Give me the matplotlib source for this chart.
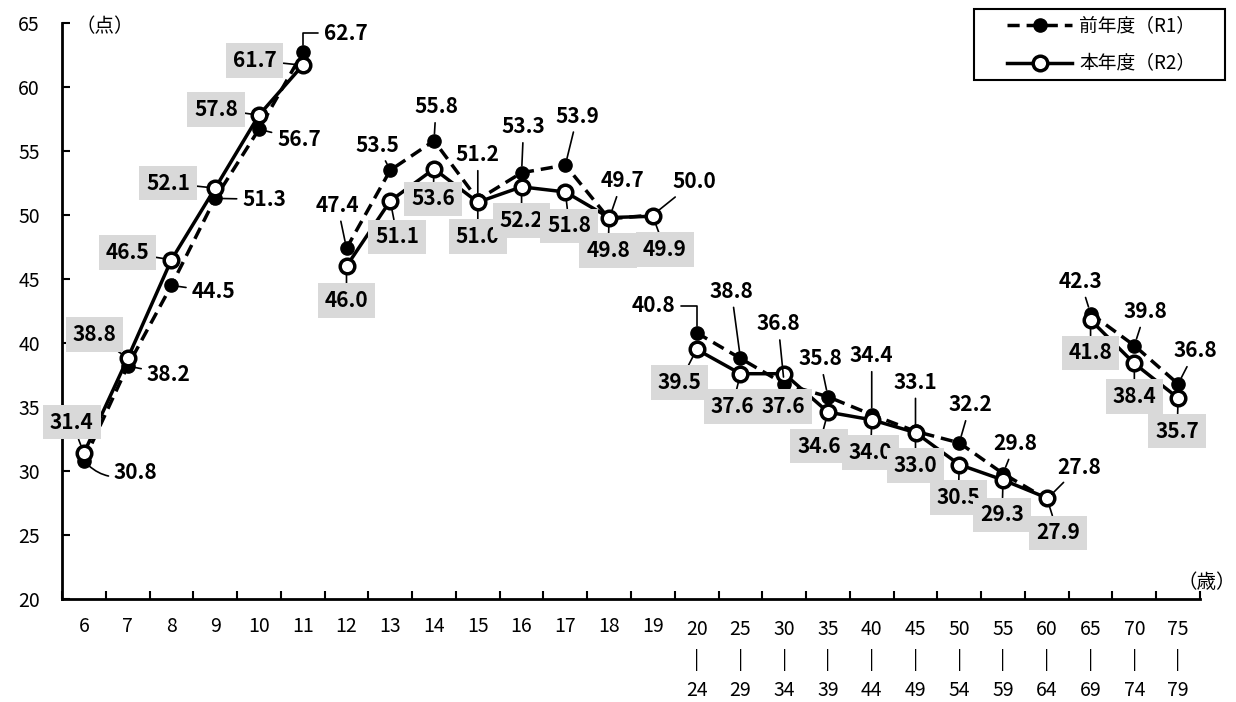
import matplotlib
matplotlib.use("Agg")
import matplotlib.pyplot as plt
import matplotlib.transforms as mtransforms
from matplotlib.patches import Rectangle
import numpy as np

plt.rcParams['font.family'] = ['Noto Sans CJK JP', 'DejaVu Sans']

# ---- data ----
tick_labels = ['6', '7', '8', '9', '10', '11', '12', '13', '14', '15', '16', '17', '18', '19',
               '20\n|\n24', '25\n|\n29', '30\n|\n34', '35\n|\n39', '40\n|\n44', '45\n|\n49',
               '50\n|\n54', '55\n|\n59', '60\n|\n64', '65\n|\n69', '70\n|\n74', '75\n|\n79']
r1 = [30.8, 38.2, 44.5, 51.3, 56.7, 62.7,
      47.4, 53.5, 55.8, 51.2, 53.3, 53.9, 49.7, 50.0,
      40.8, 38.8, 36.8, 35.8, 34.4, 33.1, 32.2, 29.8, 27.8,
      42.3, 39.8, 36.8]
r2 = [31.4, 38.8, 46.5, 52.1, 57.8, 61.7,
      46.0, 51.1, 53.6, 51.0, 52.2, 51.8, 49.8, 49.9,
      39.5, 37.6, 37.6, 34.6, 34.0, 33.0, 30.5, 29.3, 27.9,
      41.8, 38.4, 35.7]
segments = [(0, 6), (6, 14), (14, 23), (23, 26)]
label_r1 = '前年度（R1）'
label_r2 = '本年度（R2）'

# ---- label offsets (pixels) ----
off_r1 = [(52, -12), (41, -8), (42, -6), (49, -1), (40, -10), (43, 19),
          (-9, 43), (-13, 25), (2, 34), (0, 45), (2, 46), (12, 49), (13, 38), (41, 33),
          (-43, 27), (-9, 67), (-6, 60), (-8, 38), (0, 59), (0, 49), (11, 38), (12, 30), (32, 32),
          (-10, 32), (11, 34), (17, 33)]
conn_r1 = ['arc3,rad=-0.35', 'arc3', 'arc3', 'arc3', 'arc3', 'angle,angleA=0,angleB=90,rad=0',
           'arc3', 'arc3', 'arc3', 'arc3', 'arc3', 'arc3', 'arc3', 'arc3',
           'angle,angleA=0,angleB=90,rad=0', 'arc3', 'arc3', 'arc3', 'arc3', 'arc3', 'arc3', 'arc3', 'arc3',
           'arc3', 'arc3', 'arc3']
off_r2 = [(-12, 31), (-33, 24), (-44, 7), (-47, 5), (-43, 6), (-48, 5),
          (0, -34), (7, -36), (-1, -30), (0, -34), (0, -34), (4, -34), (-1, -33), (12, -33),
          (-17, -33), (-8, -33), (-1, -33), (-9, -34), (-1, -33), (0, -33), (-1, -33), (-1, -35), (11, -35),
          (0, -33), (0, -33), (-1, -33)]

fig = plt.figure(figsize=(12.36, 7.02), dpi=100)
ax = fig.add_axes([62 / 1236, 1 - 599 / 702, (1200 - 62) / 1236, (599 - 23) / 702])

x = np.arange(len(tick_labels))
r1a = np.array(r1)
r2a = np.array(r2)

h1 = h2 = None
for a, b in segments:
    h1, = ax.plot(x[a:b], r1a[a:b], color='black', lw=2.5, ls=(0, (3.5, 2)),
                  marker='o', ms=9.5, mfc='black', mec='black', zorder=3)
for a, b in segments:
    h2, = ax.plot(x[a:b], r2a[a:b], color='black', lw=2.5, ls='-',
                  marker='o', ms=10.5, mfc='white', mec='black', mew=2.5, zorder=4)

for i in range(len(x)):
    ax.annotate(f'{r1[i]:.1f}', (x[i], r1[i]), xytext=off_r1[i], textcoords='offset pixels',
                ha='center', va='center', fontsize=15, fontweight='bold', zorder=6,
                arrowprops=dict(arrowstyle='-', lw=1.2, color='black', shrinkA=2, shrinkB=5,
                                connectionstyle=conn_r1[i]))
    ax.annotate(f'{r2[i]:.1f}', (x[i], r2[i]), xytext=off_r2[i], textcoords='offset pixels',
                ha='center', va='center', fontsize=15, fontweight='bold', zorder=5,
                bbox=dict(boxstyle='square,pad=0.33', fc='#d9d9d9', ec='none'),
                arrowprops=dict(arrowstyle='-', lw=1.2, color='black', shrinkA=0, shrinkB=5))

ax.set_xlim(-0.5, len(x) - 0.5)
ax.set_ylim(20, 65)
ax.set_yticks(np.arange(20, 66, 5))
ax.tick_params(axis='y', direction='in', length=6, width=1.5, labelsize=14, pad=16)
ax.set_xticks(x)
ax.set_xticklabels([])
ax.tick_params(axis='x', length=0)
ax.set_xticks(np.arange(-0.5, len(x), 1.0), minor=True)
ax.tick_params(axis='x', which='minor', direction='in', length=6, width=1.5)

# x tick labels drawn below the axis
for i, lab in enumerate(tick_labels):
    if '\n' in lab:
        tr = mtransforms.offset_copy(ax.get_xaxis_transform(), fig=fig, x=0, y=-61, units='dots')
    else:
        tr = mtransforms.offset_copy(ax.get_xaxis_transform(), fig=fig, x=0, y=-27, units='dots')
    ax.text(x[i], 0, lab, transform=tr, ha='center', va='center', fontsize=14,
            linespacing=1.55, clip_on=False)

for s in ['top', 'right']:
    ax.spines[s].set_visible(False)
for s in ['left', 'bottom']:
    ax.spines[s].set_linewidth(2)

fig.text(105 / 1236, 1 - 27 / 702, '（点）', fontsize=14, ha='center', va='center')
fig.text(1207 / 1236, 1 - 582 / 702, '（歳）', fontsize=14, ha='center', va='center')

# legend with a hand-drawn frame
fig.patches.append(Rectangle((974 / 1236, 1 - 80 / 702), (1225 - 974) / 1236, (80 - 9) / 702,
                             transform=fig.transFigure, fill=False, ec='black', lw=1.5))
leg = fig.legend([h1, h2], [label_r1, label_r2], loc='center',
                 bbox_to_anchor=(1101 / 1236, 1 - 45 / 702),
                 fontsize=13.5, frameon=False, handlelength=3.5, labelspacing=0.9,
                 handletextpad=0.35, borderpad=0, borderaxespad=0)

fig.savefig('out.png', dpi=100)
